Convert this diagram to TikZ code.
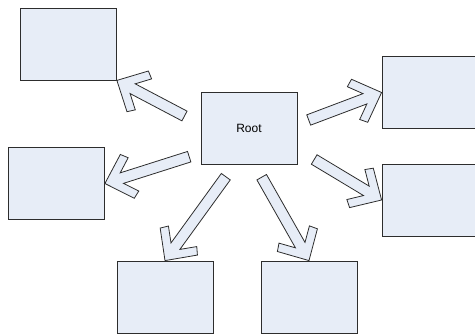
\documentclass[tikz,border=0pt]{standalone}
\usepackage{fontspec}
\setmainfont{Liberation Sans}
\usetikzlibrary{calc}
\definecolor{boxfill}{RGB}{231,237,247}
\definecolor{edgecol}{RGB}{45,45,45}
\tikzset{
  box/.style={draw=edgecol, fill=boxfill, line width=0.8pt, minimum width=96pt,
    minimum height=72pt, inner sep=0pt, font=\fontsize{12}{14}\selectfont},
  blockarrow/.style={draw=edgecol, fill=boxfill, line width=0.8pt, line join=miter},
}
% #1 = tail coordinate, #2 = tip coordinate
\newcommand\bigarrow[2]{%
  \path[blockarrow] let \p1=(#2), \p2=(#1), \n1={atan2(\y2-\y1,\x2-\x1)} in
    (\p1)
    -- ($(\p1)+(\n1:23.5pt)+(\n1+90:23pt)$)
    -- ($(\p1)+(\n1:30pt)+(\n1+90:17.5pt)$)
    -- ($(\p1)+(\n1:17.8pt)+(\n1+90:5.5pt)$)
    -- ($(\p2)+(\n1+90:5.5pt)$)
    -- ($(\p2)+(\n1-90:5.5pt)$)
    -- ($(\p1)+(\n1:17.8pt)+(\n1-90:5.5pt)$)
    -- ($(\p1)+(\n1:30pt)+(\n1-90:17.5pt)$)
    -- ($(\p1)+(\n1:23.5pt)+(\n1-90:23pt)$)
    -- cycle;
}
\begin{document}
\begin{tikzpicture}[x=1pt,y=-1pt]
  \useasboundingbox (0,0) rectangle (475,334);
  \node[box] (root) at (249,128) {Root};
  \node[box] (tl) at (68.5,44) {};
  \node[box] (tr) at (430,92.5) {};
  \node[box] (ml) at (56.5,183.5) {};
  \node[box] (mr) at (430,200) {};
  \node[box] (bl) at (165,297) {};
  \node[box] (br) at (309,297) {};
  \coordinate (t1) at (184.5,116);
  \coordinate (t2) at (308.7,120);
  \coordinate (t3) at (189.2,156.7);
  \coordinate (t4) at (225.8,176.7);
  \coordinate (t5) at (261.7,177.2);
  \coordinate (t6) at (314.2,159.5);
  \bigarrow{t1}{tl.south east}
  \bigarrow{t2}{tr.west}
  \bigarrow{t3}{ml.east}
  \bigarrow{t4}{bl.north}
  \bigarrow{t5}{br.north}
  \bigarrow{t6}{mr.west}
\end{tikzpicture}
\end{document}
